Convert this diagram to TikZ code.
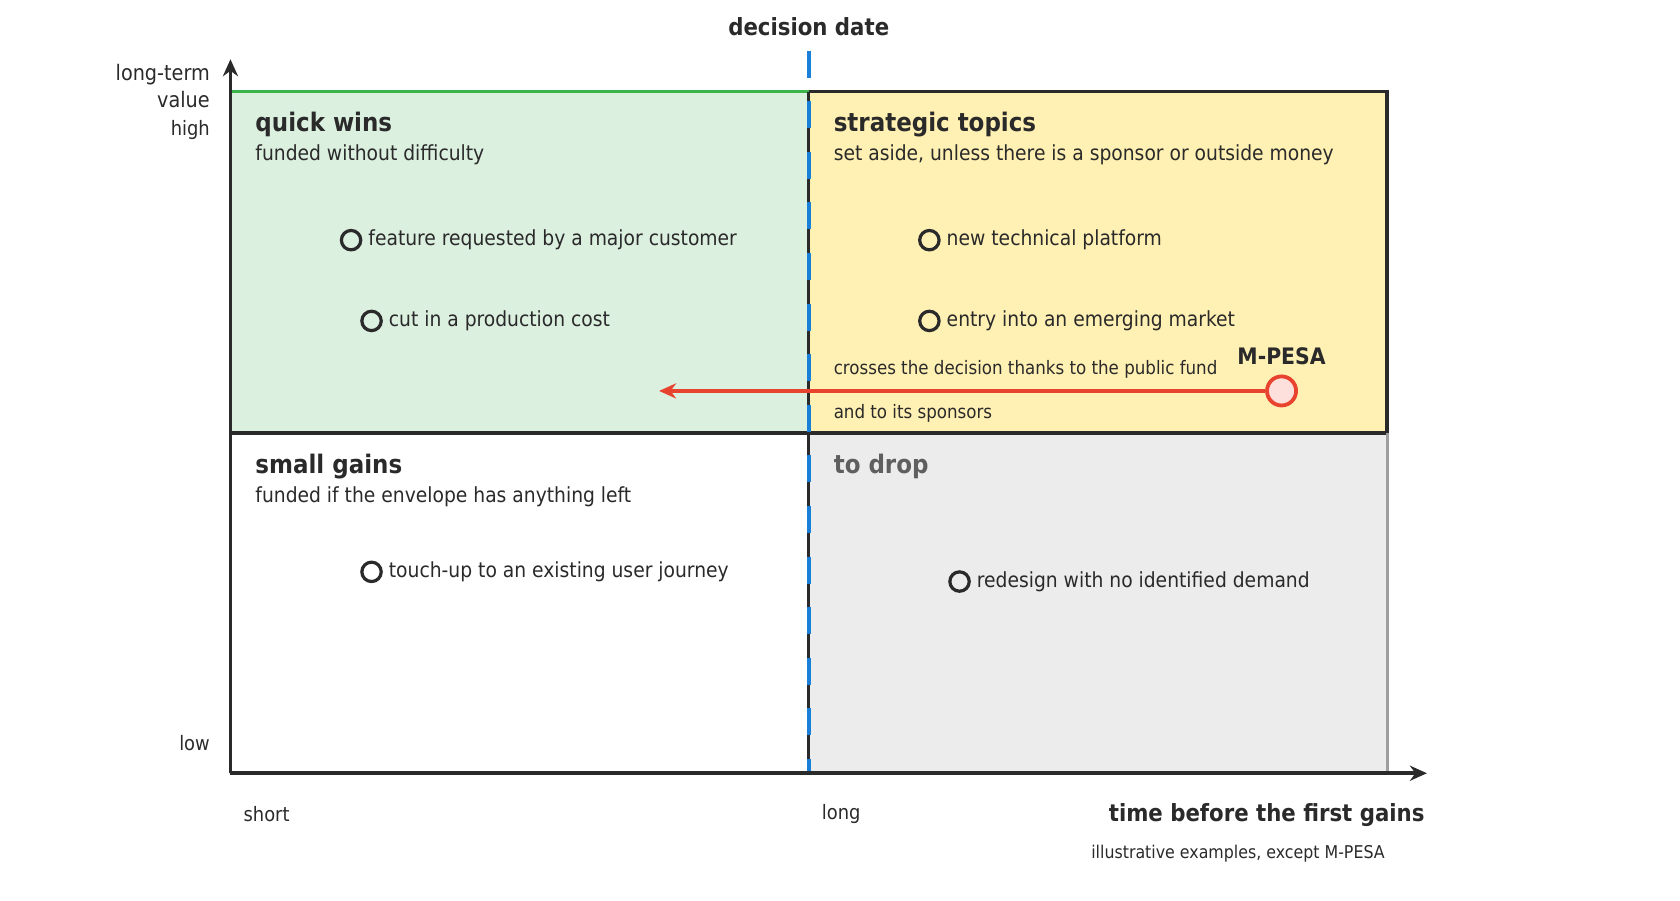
\documentclass[tikz,border=0pt]{standalone}
\usepackage{fontspec}
\setmainfont{DejaVu Sans Condensed}
\usetikzlibrary{arrows.meta}
\definecolor{ink}{HTML}{2A2A2A}
\definecolor{qgreen}{HTML}{DCF0E0}
\definecolor{qgreenline}{HTML}{3BB54A}
\definecolor{qyellow}{HTML}{FFF0B3}
\definecolor{qgrey}{HTML}{ECECEC}
\definecolor{qgreyline}{HTML}{9E9E9E}
\definecolor{dateblue}{HTML}{1A7FD6}
\definecolor{mred}{HTML}{E8432E}
\definecolor{mpink}{HTML}{FDE0DC}
\tikzset{
  title/.style={anchor=west,font=\fontsize{13.5}{15}\selectfont\bfseries,text=ink},
  sub/.style={anchor=west,font=\fontsize{11}{13}\selectfont,text=ink},
  tick/.style={font=\fontsize{10.5}{13}\selectfont,text=ink},
  dot/.style={circle,draw=ink,line width=1.7pt,minimum size=0.36cm,inner sep=0pt},
  item/.style={anchor=west,font=\fontsize{11}{13}\selectfont,text=ink,inner sep=3pt}
}
\begin{document}
\begin{tikzpicture}[x=0.02cm,y=-0.02cm]
\useasboundingbox (0,0) rectangle (1560,836);
% quadrants
\fill[qgreen] (214,85) rectangle (751,402);
\fill[qyellow] (751,85) rectangle (1288,402);
\fill[qgrey] (751,402) rectangle (1288,718);
\draw[qgreenline,line width=1.9pt] (214,402) -- (214,85) -- (751,85);
\draw[ink,line width=1.9pt] (751,85) -- (1288,85) -- (1288,402) -- (751,402);
\draw[qgreyline,line width=1.6pt] (1288,402) -- (1288,718);
\draw[ink,line width=1.9pt] (214,402) -- (751,402);
\draw[ink,line width=1.7pt] (751,85) -- (751,718);
% decision date
\draw[dateblue,line width=2.1pt,dash pattern=on 0.5cm off 0.44cm] (751,47) -- (751,718);
\node[font=\fontsize{12.5}{15}\selectfont\bfseries,text=ink] (date) at (751,25) {decision date};
% axes
\draw[ink,line width=2pt,-{Stealth[length=9pt,width=8pt]}] (214,718) -- (214,55);
\draw[ink,line width=2pt,-{Stealth[length=9pt,width=8pt]}] (214,718) -- (1325,718);
\node[tick,anchor=east,align=right,font=\fontsize{11.3}{14}\selectfont] (yname) at (201,80) {long-term\\value};
\node[tick,anchor=east] (high) at (201,121) {high};
\node[tick,anchor=east] (low) at (201,690) {low};
\node[tick,anchor=west] (short) at (220,756) {short};
\node[tick,anchor=west] (long) at (757,756) {long};
\node[anchor=east,font=\fontsize{12.5}{15}\selectfont\bfseries,text=ink] (xname) at (1329,757) {time before the first gains};
\node[anchor=east,font=\fontsize{9.3}{11}\selectfont,text=ink] (note) at (1292,793) {illustrative examples, except M-PESA};
% titles
\node[title] (qw) at (231,116) {quick wins};
\node[sub] (qws) at (231,144) {funded without difficulty};
\node[title] (st) at (768,116) {strategic topics};
\node[sub] (sts) at (768,144) {set aside, unless there is a sponsor or outside money};
\node[title] (sg) at (231,433) {small gains};
\node[sub] (sgs) at (231,461) {funded if the envelope has anything left};
\node[title,text=ink!75] (td) at (768,433) {to drop};
% items
\node[dot] (d1) at (326,223) {};
\node[item] at (d1.east) {feature requested by a major customer};
\node[dot] (d2) at (345,298) {};
\node[item] at (d2.east) {cut in a production cost};
\node[dot] (d3) at (863,223) {};
\node[item] at (d3.east) {new technical platform};
\node[dot] (d4) at (863,298) {};
\node[item] at (d4.east) {entry into an emerging market};
\node[dot] (d5) at (345,531) {};
\node[item] at (d5.east) {touch-up to an existing user journey};
\node[dot] (d6) at (891,540) {};
\node[item] at (d6.east) {redesign with no identified demand};
% M-PESA
\node[circle,draw=mred,fill=mpink,line width=2pt,minimum size=0.54cm,inner sep=0pt] (mpesa) at (1190,363) {};
\node[font=\fontsize{12}{14}\selectfont\bfseries,text=ink] (mlabel) at (1190,331) {M-PESA};
\coordinate (mend) at (612,363);
\draw[mred,line width=2pt,-{Stealth[length=9pt,width=8pt]}] (mpesa) -- (mend);
\node[anchor=west,font=\fontsize{9.8}{12}\selectfont,text=ink] (c1) at (768,343) {crosses the decision thanks to the public fund};
\node[anchor=west,font=\fontsize{9.8}{12}\selectfont,text=ink] (c2) at (768,384) {and to its sponsors};
\end{tikzpicture}
\end{document}
